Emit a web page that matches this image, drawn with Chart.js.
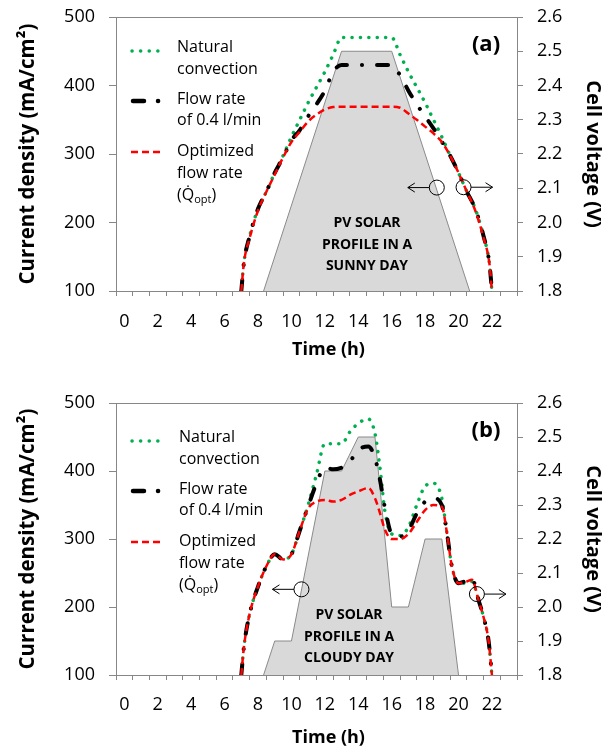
<!DOCTYPE html>
<html>
<head>
<meta charset="utf-8">
<script src="https://cdn.jsdelivr.net/npm/chart.js@4"></script>
<style>
  body { margin: 0; background: #fff; }
  .panel { position: relative; width: 614px; height: 375px; }
</style>
</head>
<body>
<div class="panel"><canvas id="chartA"></canvas></div>
<div class="panel"><canvas id="chartB"></canvas></div>
<script>
const FONT = "'Open Sans', sans-serif";
const AXIS_GREY = '#878787';

// tick labels
const hourTicks = [0, 1, 2, 3, 4, 5, 6, 7, 8, 9, 10, 11, 12, 13, 14, 15, 16, 17, 18, 19, 20, 21, 22, 23];
const currentTicks = [100, 200, 300, 400, 500];
const voltageTicks = [1.8, 1.9, 2.0, 2.1, 2.2, 2.3, 2.4, 2.5, 2.6];

// (a) sunny day - PV current density profile (mA/cm2)
const pvSunnyHours = [7, 13, 16, 22];
const pvSunnyCurrent = [0, 450, 450, 0];

// (a) cell voltage (V)
const sunnyHours     = [7, 7.15, 7.5, 8, 8.5, 9, 9.5, 10, 10.5, 11, 11.5, 12, 12.5, 13, 14, 15, 16, 16.5, 17, 17.5, 18, 18.5, 19, 19.5, 20, 20.5, 21, 21.5, 21.85, 22];
const sunnyNatural   = [1.80, 1.88, 1.96, 2.04, 2.09, 2.145, 2.195, 2.25, 2.30, 2.35, 2.395, 2.44, 2.49, 2.54, 2.54, 2.54, 2.54, 2.49, 2.44, 2.395, 2.35, 2.30, 2.25, 2.195, 2.145, 2.09, 2.04, 1.96, 1.88, 1.80];
const sunnyFlow04    = [1.80, 1.88, 1.96, 2.04, 2.09, 2.145, 2.19, 2.24, 2.27, 2.31, 2.345, 2.385, 2.44, 2.46, 2.46, 2.46, 2.46, 2.43, 2.385, 2.345, 2.31, 2.275, 2.236, 2.195, 2.145, 2.09, 2.04, 1.96, 1.88, 1.80];
const sunnyOptimized = [1.80, 1.88, 1.955, 2.035, 2.09, 2.14, 2.19, 2.235, 2.265, 2.295, 2.315, 2.33, 2.337, 2.338, 2.338, 2.338, 2.338, 2.335, 2.318, 2.30, 2.28, 2.26, 2.235, 2.195, 2.145, 2.09, 2.035, 1.955, 1.88, 1.80];

// (b) cloudy day - PV current density profile (mA/cm2)
const pvCloudyHours = [7, 9, 10, 12, 13, 14, 15, 16, 17, 18, 19, 20.5];
const pvCloudyCurrent = [0, 150, 150, 400, 400, 450, 450, 200, 200, 300, 300, 0];

// (b) cell voltage (V)
const cloudyHours     = [7, 7.15, 7.5, 8, 8.5, 9, 9.5, 10, 10.5, 11, 11.5, 12, 12.5, 13, 13.5, 14, 14.6, 15, 15.3, 15.6, 16, 16.5, 17, 17.5, 18, 18.5, 19, 19.3, 19.6, 20, 20.5, 20.8, 21.2, 21.5, 21.8, 22];
const cloudyNatural   = [1.80, 1.88, 1.98, 2.06, 2.12, 2.155, 2.14, 2.155, 2.225, 2.30, 2.39, 2.48, 2.48, 2.48, 2.515, 2.54, 2.553, 2.51, 2.41, 2.28, 2.215, 2.21, 2.235, 2.30, 2.355, 2.364, 2.32, 2.22, 2.12, 2.07, 2.07, 2.075, 2.02, 1.97, 1.90, 1.80];
const cloudyFlow04    = [1.80, 1.88, 1.98, 2.06, 2.12, 2.155, 2.14, 2.155, 2.225, 2.296, 2.364, 2.41, 2.405, 2.41, 2.428, 2.462, 2.472, 2.438, 2.374, 2.29, 2.215, 2.207, 2.225, 2.275, 2.31, 2.32, 2.30, 2.22, 2.12, 2.07, 2.078, 2.085, 2.02, 1.97, 1.90, 1.80];
const cloudyOptimized = [1.80, 1.88, 1.98, 2.06, 2.12, 2.155, 2.14, 2.155, 2.225, 2.29, 2.31, 2.315, 2.31, 2.315, 2.33, 2.34, 2.35, 2.32, 2.276, 2.227, 2.20, 2.20, 2.215, 2.25, 2.285, 2.30, 2.295, 2.22, 2.12, 2.07, 2.075, 2.08, 2.02, 1.97, 1.90, 1.80];

function pts(xs, ys) {
    return xs.map((x, i) => ({ x: x, y: ys[i] }));
}

function line(ctx, x0, y0, x1, y1) {
    ctx.beginPath();
    ctx.moveTo(x0, y0);
    ctx.lineTo(x1, y1);
    ctx.stroke();
}

// circle marker with an arrow pointing to the axis it belongs to
function pointer(ctx, cx, cy, dir) {
    ctx.strokeStyle = '#000';
    ctx.lineWidth = 1;
    ctx.setLineDash([]);
    ctx.beginPath();
    ctx.arc(cx, cy, 7.5, 0, Math.PI * 2);
    ctx.stroke();
    const x0 = cx + dir * 7.5;
    const x1 = cx + dir * 29;
    line(ctx, x0, cy, x1, cy);
    line(ctx, x1, cy, x1 - dir * 7, cy - 4.5);
    line(ctx, x1, cy, x1 - dir * 7, cy + 4.5);
}

const panelPlugin = {
    id: 'panel',
    afterDraw(chart, args, p) {
        const ctx = chart.ctx;
        const a = chart.chartArea;
        ctx.save();

        // plot frame
        ctx.strokeStyle = AXIS_GREY;
        ctx.lineWidth = 1;
        ctx.strokeRect(Math.round(a.left) + 0.5, Math.round(a.top) + 0.5, Math.round(a.right - a.left), Math.round(a.bottom - a.top));

        // legend
        const lx0 = a.left + 15, lx1 = a.left + 45, tx = a.left + p.legendX;
        const ly = a.top + p.legendY;
        ctx.lineWidth = 3.5;
        ctx.lineCap = 'round';
        ctx.strokeStyle = '#00b050';
        ctx.setLineDash([0.1, 8.5]);
        line(ctx, lx0 + 1, ly + 34, lx1, ly + 34);
        ctx.strokeStyle = '#000';
        ctx.lineWidth = 4.5;
        ctx.setLineDash([11, 14, 0.1, 14]);
        line(ctx, lx0 + 2, ly + 84, lx1 + 2, ly + 84);
        ctx.lineCap = 'butt';
        ctx.strokeStyle = '#ff0000';
        ctx.lineWidth = 2.5;
        ctx.setLineDash([7, 4]);
        line(ctx, lx0, ly + 135, lx1 + 1, ly + 135);
        ctx.setLineDash([]);

        ctx.fillStyle = '#000';
        ctx.textAlign = 'left';
        ctx.textBaseline = 'middle';
        ctx.font = '16px ' + FONT;
        ctx.fillText('Natural', tx, ly + 30);
        ctx.fillText('convection', tx, ly + 52);
        ctx.fillText('Flow rate', tx, ly + 82);
        ctx.fillText('of 0.4 l/min', tx, ly + 103);
        ctx.fillText('Optimized', tx, ly + 134);
        ctx.fillText('flow rate', tx, ly + 156);
        let qx = tx;
        ctx.fillText('(Q\u0307', qx, ly + 178);
        qx += ctx.measureText('(Q\u0307').width;
        ctx.font = '11px ' + FONT;
        ctx.fillText('opt', qx, ly + 183);
        qx += ctx.measureText('opt').width;
        ctx.font = '16px ' + FONT;
        ctx.fillText(')', qx, ly + 178);

        // panel letter
        ctx.font = 'bold 22px ' + FONT;
        ctx.textAlign = 'center';
        ctx.fillText(p.letter, a.right - 31, a.top + 28);

        // PV profile caption
        ctx.font = 'bold 14px ' + FONT;
        p.caption.forEach((t, i) => ctx.fillText(t, a.left + p.captionX, a.top + p.captionY + i * 21.7));

        // x axis title (sits a little right of the plot centre in the original)
        ctx.font = 'bold 18px ' + FONT;
        ctx.fillText('Time (h)', (a.left + a.right) / 2 + 12, a.bottom + p.xTitleY);

        // axis pointers
        const xs = chart.scales.x, ys = chart.scales.y, y2 = chart.scales.y2;
        pointer(ctx, xs.getPixelForValue(p.leftPtr[0]), ys.getPixelForValue(p.leftPtr[1]), -1);
        pointer(ctx, xs.getPixelForValue(p.rightPtr[0]), y2.getPixelForValue(p.rightPtr[1]), 1);

        ctx.restore();
    }
};

function buildChart(id, p) {
    const common = { pointRadius: 0, fill: false, cubicInterpolationMode: 'monotone', yAxisID: 'y2' };
    return new Chart(document.getElementById(id), {
        type: 'line',
        data: {
            datasets: [
                Object.assign({}, common, {
                    label: 'Optimized flow rate (Qopt)',
                    data: pts(p.hours, p.optimized),
                    borderColor: '#ff0000',
                    borderWidth: 2.5,
                    borderDash: [7, 4]
                }),
                Object.assign({}, common, {
                    label: 'Flow rate of 0.4 l/min',
                    data: pts(p.hours, p.flow04),
                    borderColor: '#000000',
                    borderWidth: 4,
                    borderCapStyle: 'round',
                    borderDash: [11, 15, 0.1, 15]
                }),
                Object.assign({}, common, {
                    label: 'Natural convection',
                    data: pts(p.hours, p.natural),
                    borderColor: '#00b050',
                    borderWidth: 3.5,
                    borderCapStyle: 'round',
                    borderDash: [0.1, 8.3]
                }),
                {
                    label: 'PV solar profile',
                    data: pts(p.pvHours, p.pvCurrent),
                    yAxisID: 'y',
                    pointRadius: 0,
                    tension: 0,
                    borderColor: '#8a8a8a',
                    borderWidth: 1,
                    backgroundColor: '#d9d9d9',
                    fill: 'start'
                }
            ]
        },
        options: {
            responsive: true,
            maintainAspectRatio: false,
            animation: false,
            layout: { padding: { top: p.top, left: 0, right: 0, bottom: 0 } },
            plugins: {
                legend: { display: false },
                tooltip: { enabled: false },
                panel: p
            },
            scales: {
                x: {
                    type: 'linear',
                    min: -0.5,
                    max: 23.5,
                    afterBuildTicks: s => { s.ticks = hourTicks.map(v => ({ value: v })); },
                    afterFit: s => { s.height = p.xHeight; s.paddingLeft = 0; s.paddingRight = 0; },
                    ticks: {
                        autoSkip: false,
                        maxRotation: 0,
                        padding: p.xPad,
                        color: '#000',
                        font: { family: FONT, size: 18 },
                        callback: v => (v % 2 === 0 ? String(v) : '')
                    },
                    grid: { offset: true, drawOnChartArea: false, tickLength: 5, color: AXIS_GREY },
                    border: { color: AXIS_GREY }
                },
                y: {
                    type: 'linear',
                    position: 'left',
                    min: 100,
                    max: 500,
                    afterBuildTicks: s => { s.ticks = currentTicks.map(v => ({ value: v })); },
                    afterFit: s => { s.width = 116; s.paddingTop = 0; s.paddingBottom = 0; },
                    ticks: { padding: 14, color: '#000', font: { family: FONT, size: 18 } },
                    grid: { drawOnChartArea: false, tickLength: 7, color: AXIS_GREY },
                    border: { color: AXIS_GREY },
                    title: {
                        display: true,
                        text: 'Current density (mA/cm\u00b2)',
                        color: '#000',
                        font: { family: FONT, size: 20.5, weight: 'bold' },
                        padding: { top: 16, bottom: 16 }
                    }
                },
                y2: {
                    type: 'linear',
                    position: 'right',
                    min: 1.8,
                    max: 2.6,
                    afterBuildTicks: s => { s.ticks = voltageTicks.map(v => ({ value: v })); },
                    afterFit: s => { s.width = 97; s.paddingTop = 0; s.paddingBottom = 0; },
                    ticks: { padding: 14, color: '#000', font: { family: FONT, size: 18 }, callback: v => v.toFixed(1) },
                    grid: { drawOnChartArea: false, tickLength: 6, color: AXIS_GREY },
                    border: { color: AXIS_GREY },
                    title: {
                        display: true,
                        text: 'Cell voltage (V)',
                        color: '#000',
                        font: { family: FONT, size: 20, weight: 'bold' },
                        padding: { top: 9, bottom: 9 }
                    }
                }
            }
        },
        plugins: [panelPlugin]
    });
}

buildChart('chartA', {
    hours: sunnyHours, natural: sunnyNatural, flow04: sunnyFlow04, optimized: sunnyOptimized,
    pvHours: pvSunnyHours, pvCurrent: pvSunnyCurrent,
    top: 17, xHeight: 84, xPad: 15, xTitleY: 59,
    legendX: 61, legendY: 0,
    letter: '(a)',
    caption: ['PV SOLAR', 'PROFILE IN A', 'SUNNY DAY'], captionX: 251, captionY: 206,
    leftPtr: [18.7, 251], rightPtr: [20.3, 2.103]
});

buildChart('chartB', {
    hours: cloudyHours, natural: cloudyNatural, flow04: cloudyFlow04, optimized: cloudyOptimized,
    pvHours: pvCloudyHours, pvCurrent: pvCloudyCurrent,
    top: 28, xHeight: 75, xPad: 14, xTitleY: 63,
    legendX: 63, legendY: 4,
    letter: '(b)',
    caption: ['PV SOLAR', 'PROFILE IN A', 'CLOUDY DAY'], captionX: 233, captionY: 212,
    leftPtr: [10.6, 226], rightPtr: [21.1, 2.038]
});
</script>
</body>
</html>
